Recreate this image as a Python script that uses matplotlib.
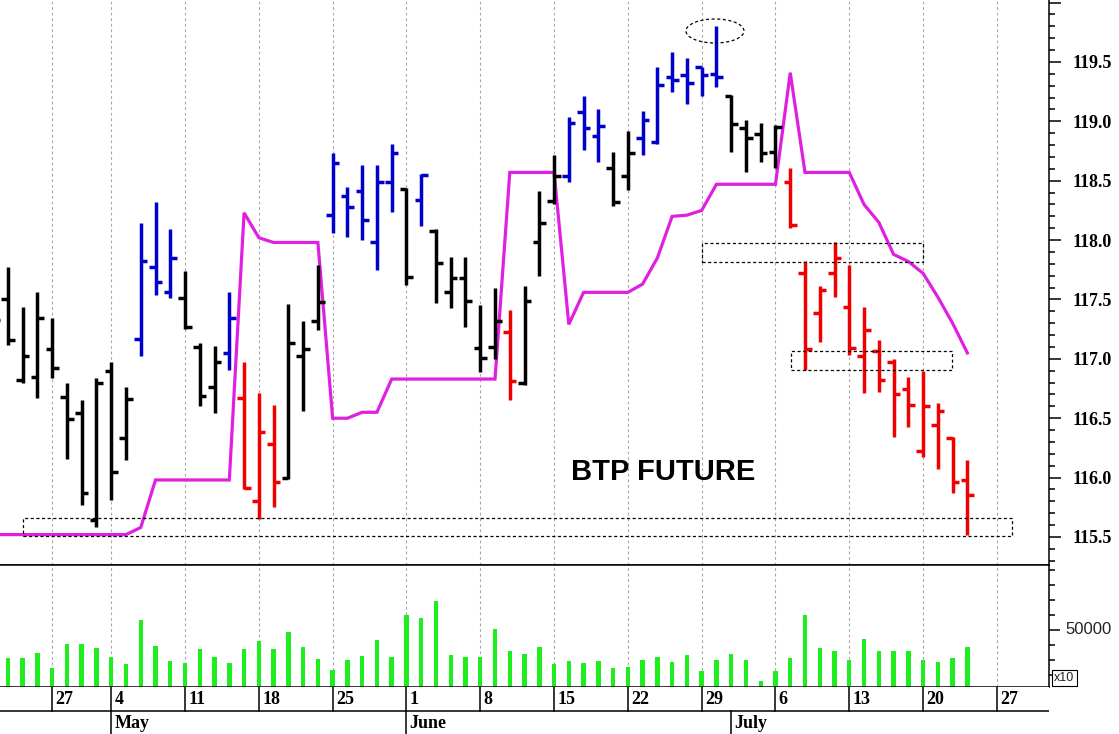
import matplotlib
matplotlib.use('Agg')
import matplotlib.pyplot as plt
import numpy as np
import pandas as pd
from matplotlib.patches import Rectangle, Ellipse
from matplotlib.ticker import MultipleLocator, FixedLocator, FuncFormatter, NullLocator

plt.rcParams['font.family'] = ['Liberation Serif', 'DejaVu Serif']

# ---------------- data ----------------
# trading calendar (Eurex closed on 1 May)
calendar = pd.bdate_range('2020-04-21', '2020-07-31')
calendar = calendar[calendar != pd.Timestamp('2020-05-01')]

open_ = [117.60, 117.50, 116.82, 116.85, 117.08, 116.68, 116.54, 115.64, 116.90, 116.33,
         117.17, 117.77, 117.56, 117.51, 117.10, 116.76, 117.05, 116.67, 115.80, 116.28,
         116.00, 117.02, 117.32, 118.21, 118.37, 118.41, 117.98, 118.49, 118.43, 118.34,
         118.08, 117.56, 117.68, 117.09, 117.10, 117.23, 116.80, 117.98, 118.33, 118.54,
         119.08, 118.88, 118.61, 118.54, 118.86, 118.83, 119.37, 119.39, 119.46, 119.40,
         119.21, 118.94, 118.89, 118.74, 118.49, 117.72, 117.39, 117.72, 117.44, 117.02,
         117.07, 116.97, 116.75, 116.22, 116.44, 116.33, 115.98]
high = [117.80, 117.77, 117.44, 117.56, 117.34, 116.80, 116.65, 116.84, 116.97, 116.76,
        118.14, 118.32, 118.09, 117.74, 117.13, 117.11, 117.56, 116.97, 116.71, 116.61,
        117.46, 117.32, 117.79, 118.73, 118.45, 118.63, 118.63, 118.81, 118.44, 118.56,
        118.09, 117.86, 117.86, 117.45, 117.60, 117.41, 117.61, 118.41, 118.72, 119.04,
        119.21, 119.10, 118.74, 118.92, 119.09, 119.46, 119.58, 119.53, 119.46, 119.80,
        119.22, 119.01, 118.99, 118.97, 118.61, 117.82, 117.61, 117.98, 117.79, 117.44,
        117.16, 117.00, 116.85, 116.90, 116.63, 116.34, 116.15]
low = [117.20, 117.12, 116.80, 116.67, 116.84, 116.16, 115.77, 115.58, 115.81, 116.15,
       117.02, 117.54, 117.51, 117.25, 116.60, 116.54, 116.91, 115.90, 115.65, 115.75,
       115.99, 116.56, 117.24, 118.06, 118.03, 118.00, 117.75, 118.24, 117.62, 118.12,
       117.47, 117.43, 117.27, 116.89, 117.00, 116.65, 116.78, 117.70, 118.30, 118.49,
       118.76, 118.66, 118.29, 118.42, 118.72, 118.81, 119.25, 119.15, 119.21, 119.29,
       118.74, 118.57, 118.66, 118.61, 118.10, 116.91, 117.14, 117.52, 117.03, 116.71,
       116.72, 116.34, 116.43, 116.17, 116.07, 115.87, 115.52]
close = [117.33, 117.16, 117.02, 117.34, 116.92, 116.49, 115.87, 116.80, 116.05, 116.66,
         117.82, 117.65, 117.85, 117.27, 116.69, 116.97, 117.34, 115.91, 116.38, 115.96,
         117.13, 117.08, 117.48, 118.65, 118.28, 118.17, 118.49, 118.73, 117.69, 118.55,
         117.81, 117.68, 117.49, 117.01, 117.32, 116.81, 117.49, 118.14, 118.54, 118.99,
         118.94, 118.96, 118.32, 118.73, 119.01, 119.31, 119.35, 119.32, 119.39, 119.37,
         118.98, 118.86, 118.73, 118.95, 118.13, 117.08, 117.58, 117.85, 117.09, 117.24,
         116.82, 116.70, 116.61, 116.60, 116.56, 115.96, 115.85]
# N = neutral (black), U = up trend (blue), D = down trend (red)
trend = list('NNNNNNNNNN'
             'UUUNNNUDDD'
             'NNNUUUUUNU'
             'NNNNNDNNNU'
             'UUNNUUUUUU'
             'NNNNDDDDDD'
             'DDDDDDD')
stop_line = [115.52, 115.52, 115.52, 115.52, 115.52, 115.52, 115.52, 115.52, 115.52, 115.52,
             115.58, 115.98, 115.98, 115.98, 115.98, 115.98, 115.98, 118.23, 118.02, 117.98,
             117.98, 117.98, 117.98, 116.50, 116.50, 116.55, 116.55, 116.83, 116.83, 116.83,
             116.83, 116.83, 116.83, 116.83, 116.83, 118.57, 118.57, 118.57, 118.57, 117.29,
             117.56, 117.56, 117.56, 117.56, 117.63, 117.85, 118.20, 118.21, 118.25, 118.47,
             118.47, 118.47, 118.47, 118.47, 119.41, 118.57, 118.57, 118.57, 118.57, 118.30,
             118.15, 117.88, 117.82, 117.72, 117.52, 117.30, 117.05]
volume = [30000, 31130, 31330, 34870, 24470, 40470, 40470, 37800, 32200, 27330,
          56670, 39530, 29330, 28200, 37130, 32000, 27800, 37130, 42470, 37130,
          48470, 38470, 30470, 23330, 30000, 32870, 43530, 32200, 59800, 57800,
          69130, 33130, 32000, 32000, 50470, 36000, 34000, 38670, 27330, 29330,
          28200, 29330, 24670, 25330, 30000, 32000, 28670, 33130, 22670, 30000,
          34000, 30000, 16000, 22670, 31330, 60000, 37800, 36000, 30000, 43800,
          36000, 36000, 36000, 30000, 28670, 31330, 38670]

title_text = 'BTP FUTURE'
price_ticks_step = 0.5

n = len(close)
x = np.arange(n)
trend_colors = {'N': '#000000', 'U': '#0000cc', 'D': '#f00000'}
cols = [trend_colors[t] for t in trend]

# ---------------- figure layout ----------------
W, H = 1119, 734
fig = plt.figure(figsize=(W / 100, H / 100), dpi=100)
axr = 1049 / W
ax = fig.add_axes([0, (H - 565) / H, axr, 565 / H])
axv = fig.add_axes([0, (H - 687) / H, axr, 122 / H])
axd = fig.add_axes([0, 0, axr, 47 / H])

xl = (0.465, 71.53)
for a in (ax, axv, axd):
    a.set_xlim(*xl)
    a.xaxis.set_major_locator(NullLocator())
    a.xaxis.set_minor_locator(NullLocator())
    a.set_facecolor('white')

# week separators / gridlines
week_pos = [i for i, d in enumerate(calendar) if d.weekday() == 0]
week_lab = [str(calendar[i].day) for i in week_pos]
month_pos = []
month_lab = []
for i, d in enumerate(calendar):
    if i > 0 and d.month != calendar[i - 1].month:
        month_pos.append(i)
        month_lab.append(d.strftime('%B'))

grid_kw = dict(color='#a8a8a8', lw=0.8, linestyle=(0, (2.5, 2.5)), zorder=0)
for p in week_pos:
    if xl[0] < p < xl[1]:
        ax.axvline(p, **grid_kw)
        axv.axvline(p, **grid_kw)

# ---------------- price panel ----------------
ax.set_ylim(115.264, 120.022)
ax.plot(x, stop_line, color='#e020e0', lw=2.3, zorder=2, solid_joinstyle='miter')
tick_len = 0.45
ax.vlines(x, low, high, colors=cols, lw=2.5, zorder=3)
ax.hlines(open_, x - tick_len, x, colors=cols, lw=2.5, zorder=3)
ax.hlines(close, x, x + tick_len, colors=cols, lw=2.5, zorder=3)

rect_kw = dict(fill=False, ec='black', lw=0.9, linestyle=(0, (2.5, 2.0)), zorder=4)
ax.add_patch(Rectangle((2.0, 115.508), 67.0, 0.152, **rect_kw))
ax.add_patch(Rectangle((48.0, 117.816), 15.0, 0.160, **rect_kw))
ax.add_patch(Rectangle((54.05, 116.906), 10.9, 0.160, **rect_kw))
ax.add_patch(Ellipse((48.9, 119.761), 3.93, 0.202, fill=False, ec='black', lw=0.9,
                     linestyle=(0, (2.5, 2.0)), zorder=4))

ax.text(45.38, 116.05, title_text, ha='center', va='center', fontsize=21,
        fontweight='bold', family=['Liberation Sans', 'DejaVu Sans'], color='black')

for s in ('top', 'left'):
    ax.spines[s].set_visible(False)
for s in ('right', 'bottom'):
    ax.spines[s].set_linewidth(1.1)
ax.yaxis.tick_right()
ax.yaxis.set_major_locator(MultipleLocator(price_ticks_step))
ax.yaxis.set_minor_locator(MultipleLocator(0.1))
ax.yaxis.set_major_formatter(FuncFormatter(lambda v, pos: '' if v > 119.9 else f'{v:.1f}'))
ax.tick_params(axis='y', which='major', direction='out', length=8.6, width=1.1,
               pad=8, labelsize=13)
ax.tick_params(axis='y', which='minor', direction='out', length=4.3, width=1.1)
for lbl in ax.get_yticklabels():
    lbl.set_fontweight('bold')

# ---------------- volume panel ----------------
axv.set_ylim(12000, 93333)
axv.bar(x, volume, width=0.3, color='#1eee1e', zorder=2)
axv.spines['left'].set_visible(False)
for s in ('right', 'bottom', 'top'):
    axv.spines[s].set_linewidth(1.1)
axv.yaxis.tick_right()
axv.yaxis.set_major_locator(FixedLocator([50000]))
axv.yaxis.set_minor_locator(MultipleLocator(10000))
axv.tick_params(axis='y', which='major', direction='out', length=8, width=1.1,
                labelright=False)
axv.tick_params(axis='y', which='minor', direction='out', length=4, width=1.1)
axv.annotate('50000', xy=(1.0, 50000), xycoords=('axes fraction', 'data'),
             xytext=(12, 0), textcoords='offset points', ha='left', va='center',
             fontsize=12, family=['Liberation Sans', 'DejaVu Sans'], color='#222222',
             annotation_clip=False)
fig.text(1054 / W, (H - 678) / H, 'x10', fontsize=9, family=['Liberation Sans', 'DejaVu Sans'],
         ha='left', va='center', color='#222222',
         bbox=dict(boxstyle='square,pad=0.18', fc='white', ec='black', lw=0.8))

# ---------------- date axis ----------------
axd.set_ylim(0, 47)
for s in axd.spines.values():
    s.set_visible(False)
axd.yaxis.set_major_locator(NullLocator())
axd.axhline(23.5, color='black', lw=1.1)
for p, lab in zip(week_pos, week_lab):
    if xl[0] < p < xl[1]:
        axd.plot([p, p], [23.5, 47], color='black', lw=1.1)
        axd.text(p + 0.22, 35, lab, ha='left', va='center', fontsize=13, fontweight='bold')
for p, lab in zip(month_pos, month_lab):
    if xl[0] < p < xl[1]:
        axd.plot([p, p], [0, 23.5], color='black', lw=1.1)
        axd.text(p + 0.22, 10.5, lab, ha='left', va='center', fontsize=13, fontweight='bold')

fig.savefig('out.png', dpi=100, facecolor='white')
